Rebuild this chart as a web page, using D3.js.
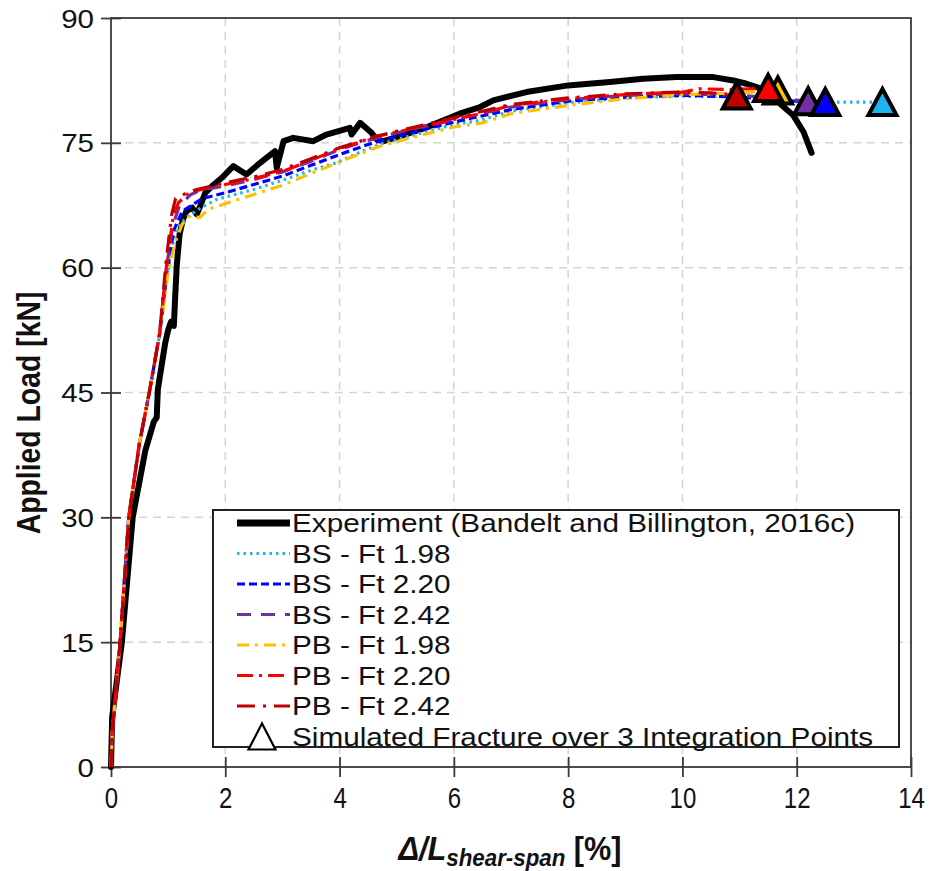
<!DOCTYPE html>
<html>
<head>
<meta charset="utf-8">
<script src="https://cdn.jsdelivr.net/npm/d3@7"></script>
<style>
body { margin: 0; background: #fff; }
svg { display: block; }
.sans { font-family: "Liberation Sans", Arial, Helvetica, sans-serif; }
</style>
</head>
<body>
<div id="chart"></div>
<script>
// tick labels
var xTicks = [0, 2, 4, 6, 8, 10, 12, 14];
var yTicks = [0, 15, 30, 45, 60, 75, 90];

// experiment curve [drift %, load kN]
var experiment = [
    [0, 0], [0.02, 6], [0.19, 15], [0.38, 30], [0.6, 38], [0.75, 41.5], [0.8, 42],
    [0.82, 45.4], [0.95, 51], [1.0, 52.5], [1.05, 53.5], [1.1, 53], [1.12, 56],
    [1.15, 60.2], [1.2, 64], [1.26, 65.8], [1.32, 66.8], [1.42, 67.2], [1.5, 66.4],
    [1.55, 67.2], [1.65, 69.0], [1.8, 70.0], [1.94, 70.8], [2.14, 72.2], [2.37, 71.2],
    [2.61, 72.6], [2.87, 74.0], [2.9, 72.0], [3.02, 75.2], [3.19, 75.6], [3.54, 75.2],
    [3.77, 76.0], [4.18, 76.8], [4.21, 76.0], [4.36, 77.4], [4.56, 76.2], [4.65, 75.4],
    [4.77, 75.2], [5.06, 75.8], [5.5, 76.8], [6.1, 78.5], [6.46, 79.3], [6.69, 80.1],
    [7.27, 81.1], [8.0, 81.9], [8.73, 82.3], [9.31, 82.7], [9.9, 82.9], [10.54, 82.9],
    [10.89, 82.5], [11.12, 82.1], [11.3, 81.7], [11.5, 81.2], [11.71, 79.7],
    [11.94, 78.3], [12.12, 76.3], [12.26, 73.8]
];

// simulated curves
var bs198 = [
    [0, 0], [0.02, 4], [0.16, 15], [0.31, 30], [0.5, 39], [0.67, 45], [0.85, 52],
    [0.98, 59], [1.1, 63.5], [1.2, 65.2], [1.35, 66.2], [1.6, 67.3], [1.85, 68.2],
    [2.5, 69.4], [3.0, 70.5], [3.5, 71.7], [3.95, 72.6], [4.4, 74.0], [4.77, 75.0],
    [5.5, 76.3], [6.0, 77.2], [6.46, 77.7], [7.0, 78.8], [8.0, 79.8], [9.0, 80.4],
    [10.0, 80.6], [11.0, 80.6], [11.35, 80.0], [12.0, 79.9], [13.5, 79.9]
];
var bs220 = [
    [0, 0], [0.02, 4], [0.16, 15], [0.31, 30], [0.5, 39], [0.67, 45], [0.85, 52],
    [0.98, 59.5], [1.1, 64.5], [1.25, 66.8], [1.6, 68.3], [2.0, 69.0], [2.5, 70.0],
    [3.0, 71.0], [3.5, 72.3], [4.0, 73.6], [4.5, 74.8], [5.0, 75.8], [6.0, 77.5],
    [7.0, 79.0], [8.0, 80.0], [9.0, 80.5], [10.0, 80.7], [11.0, 80.5], [12.0, 80.0],
    [12.5, 79.9]
];
var bs242 = [
    [0, 0], [0.02, 4], [0.16, 15], [0.31, 30], [0.5, 39], [0.67, 45], [0.85, 52],
    [0.97, 60], [1.08, 65], [1.2, 67.5], [1.4, 68.8], [1.61, 69.4], [2.0, 69.8],
    [2.5, 70.6], [3.0, 71.5], [3.5, 72.8], [4.0, 74.2], [4.5, 75.3], [5.0, 76.2],
    [6.0, 77.8], [7.0, 79.3], [8.0, 80.2], [9.0, 80.7], [10.0, 80.9], [11.0, 80.7],
    [11.6, 80.4], [12.2, 80.0]
];
var pb198 = [
    [0, 0], [0.02, 4], [0.16, 15], [0.31, 30], [0.5, 39], [0.67, 45], [0.85, 52],
    [0.99, 59], [1.12, 63], [1.25, 65.3], [1.4, 66.3], [1.55, 66.0], [1.7, 67.0],
    [2.0, 67.7], [2.5, 68.8], [3.0, 69.9], [3.6, 71.6], [4.18, 73.2], [4.7, 74.6],
    [5.47, 76.0], [6.0, 76.9], [6.5, 77.4], [7.0, 78.5], [8.0, 79.5], [9.0, 80.3],
    [10.0, 80.8], [11.0, 81.0], [11.67, 81.3]
];
var pb220 = [
    [0, 0], [0.02, 4], [0.16, 15], [0.31, 30], [0.5, 39], [0.67, 45], [0.85, 52],
    [0.97, 60.2], [1.09, 66.2], [1.18, 67.8], [1.38, 69.1], [2.0, 70.0], [2.43, 70.6],
    [3.02, 71.6], [3.5, 72.9], [3.95, 74.2], [4.65, 75.8], [5.0, 76.3], [6.0, 77.8],
    [6.46, 78.5], [7.0, 79.5], [8.0, 80.3], [9.0, 80.8], [10.0, 81.1], [10.3, 81.5],
    [10.8, 81.4], [11.2, 81.5], [11.5, 81.6]
];
var pb242 = [
    [0, 0], [0.02, 4], [0.16, 15], [0.31, 30], [0.5, 39], [0.67, 45], [0.85, 52],
    [0.96, 60.5], [1.06, 66.3], [1.13, 68.3], [1.3, 68.9], [1.5, 69.4], [2.0, 70.2],
    [2.5, 70.9], [3.0, 71.8], [3.5, 73.1], [4.0, 74.4], [4.5, 75.5], [5.0, 76.4],
    [6.0, 78.0], [7.0, 79.6], [8.0, 80.4], [9.0, 80.9], [10.0, 81.1], [10.5, 81.0],
    [10.95, 80.7]
];

// fracture points (same order as the simulated series)
var fractureX = [13.5, 12.5, 12.2, 11.67, 11.5, 10.95];
var fractureY = [79.9, 79.9, 80.0, 81.3, 81.6, 80.7];

var legendLabels = [
    "Experiment (Bandelt and Billington, 2016c)",
    "BS - Ft 1.98", "BS - Ft 2.20", "BS - Ft 2.42",
    "PB - Ft 1.98", "PB - Ft 2.20", "PB - Ft 2.42",
    "Simulated Fracture over 3 Integration Points"
];

// styles for the simulated series
var sims = [
    {data: bs198, color: "#1eb4f0", dash: "2.5,4"},
    {data: bs220, color: "#0000ff", dash: "8,4"},
    {data: bs242, color: "#7030a0", dash: "14,10"},
    {data: pb198, color: "#ffc000", dash: "12,6,3,6"},
    {data: pb220, color: "#ff0000", dash: "16,6,3,6"},
    {data: pb242, color: "#c00000", dash: "18,8,3,8"}
];

var W = 931, H = 871;
var plot = {l: 111, r: 911, t: 18, b: 767};

var svg = d3.select("#chart").append("svg")
    .attr("width", W).attr("height", H);

var x = d3.scaleLinear().domain([0, 14]).range([plot.l, plot.r]);
var y = d3.scaleLinear().domain([0, 90]).range([plot.b, plot.t]);

// grid
svg.append("g").selectAll("line").data(xTicks.slice(1, -1)).enter().append("line")
    .attr("x1", function(d) { return x(d); }).attr("x2", function(d) { return x(d); })
    .attr("y1", plot.t).attr("y2", plot.b)
    .attr("stroke", "#d4d4d4").attr("stroke-width", 1.5).attr("stroke-dasharray", "8,6");
svg.append("g").selectAll("line").data(yTicks.slice(1, -1)).enter().append("line")
    .attr("y1", function(d) { return y(d); }).attr("y2", function(d) { return y(d); })
    .attr("x1", plot.l).attr("x2", plot.r)
    .attr("stroke", "#d4d4d4").attr("stroke-width", 1.5).attr("stroke-dasharray", "8,6");

// frame
svg.append("rect")
    .attr("x", plot.l).attr("y", plot.t)
    .attr("width", plot.r - plot.l).attr("height", plot.b - plot.t)
    .attr("fill", "none").attr("stroke", "#3a3a3a").attr("stroke-width", 1.8);

// x axis (narrow digits)
var xAxis = svg.append("g")
    .attr("transform", "translate(0," + plot.b + ")")
    .call(d3.axisBottom(x).tickValues(xTicks).tickSizeOuter(0).tickSize(10));
xAxis.select(".domain").remove();
xAxis.selectAll(".tick line").attr("y1", -10).attr("y2", 10)
    .attr("stroke", "#3a3a3a").attr("stroke-width", 1.8);
xAxis.selectAll(".tick text").attr("class", "sans")
    .attr("y", 41).attr("dy", null)
    .attr("transform", "scale(0.8,1)")
    .attr("font-size", 30).attr("fill", "#111");

// y axis (wide digits)
var yAxis = svg.append("g")
    .attr("transform", "translate(" + plot.l + ",0)")
    .call(d3.axisLeft(y).tickValues(yTicks).tickSizeOuter(0).tickSize(10));
yAxis.select(".domain").remove();
yAxis.selectAll(".tick line").attr("x1", -10).attr("x2", 10)
    .attr("stroke", "#3a3a3a").attr("stroke-width", 1.8);
yAxis.selectAll(".tick text").attr("class", "sans")
    .attr("x", -17 / 1.18).attr("dy", "0.36em")
    .attr("transform", "scale(1.18,1)")
    .attr("font-size", 25).attr("fill", "#111");

// axis titles
svg.append("text").attr("class", "sans")
    .attr("transform", "translate(40,413) rotate(-90) scale(0.86,1)")
    .attr("text-anchor", "middle")
    .attr("font-size", 33).attr("font-weight", "bold").attr("fill", "#111")
    .text("Applied Load [kN]");

var xt = svg.append("text").attr("class", "sans")
    .attr("transform", "translate(510,860) scale(0.93,1)")
    .attr("text-anchor", "middle")
    .attr("font-weight", "bold").attr("fill", "#111");
xt.append("tspan").attr("font-size", 33).attr("font-style", "italic").text("\u0394/L");
xt.append("tspan").attr("font-size", 24).attr("font-style", "italic").attr("dy", 6).text("shear-span");
xt.append("tspan").attr("font-size", 33).attr("dy", -6).text(" [%]");

// lines
var line = d3.line()
    .x(function(d) { return x(d[0]); })
    .y(function(d) { return y(d[1]); });

svg.append("path").datum(experiment)
    .attr("d", line).attr("fill", "none")
    .attr("stroke", "#000").attr("stroke-width", 6)
    .attr("stroke-linejoin", "round").attr("stroke-linecap", "round");

sims.forEach(function(s) {
    svg.append("path").datum(s.data)
        .attr("d", line).attr("fill", "none")
        .attr("stroke", s.color).attr("stroke-width", 3.2)
        .attr("stroke-dasharray", s.dash);
});

// triangle markers, box-centred on the point
function tri(w, h) {
    return "M0," + (-h / 2) + "L" + (w / 2) + "," + (h / 2) + "L" + (-w / 2) + "," + (h / 2) + "Z";
}
var triOrder = [0, 2, 1, 3, 5, 4];
triOrder.forEach(function(i) {
    svg.append("path")
        .attr("d", tri(28, 26))
        .attr("transform", "translate(" + x(fractureX[i]) + "," + y(fractureY[i]) + ")")
        .attr("fill", sims[i].color)
        .attr("stroke", "#000").attr("stroke-width", 4).attr("stroke-linejoin", "miter");
});

// legend
var lg = svg.append("g");
lg.append("rect")
    .attr("x", 213).attr("y", 510).attr("width", 686).attr("height", 237)
    .attr("fill", "#fff").attr("stroke", "#222").attr("stroke-width", 2);

var rowY = function(i) { return 523 + i * 30.5; };
lg.append("line")
    .attr("x1", 237).attr("x2", 290).attr("y1", rowY(0)).attr("y2", rowY(0))
    .attr("stroke", "#000").attr("stroke-width", 7);
sims.forEach(function(s, i) {
    lg.append("line")
        .attr("x1", 237).attr("x2", 290).attr("y1", rowY(i + 1)).attr("y2", rowY(i + 1))
        .attr("stroke", s.color).attr("stroke-width", 3.2)
        .attr("stroke-dasharray", s.dash);
});
lg.append("path")
    .attr("d", tri(27, 26))
    .attr("transform", "translate(262," + rowY(7) + ")")
    .attr("fill", "#fff").attr("stroke", "#000").attr("stroke-width", 2.2);

lg.selectAll("text.lab").data(legendLabels).enter().append("text")
    .attr("class", "sans lab")
    .attr("transform", function(d, i) { return "translate(292," + rowY(i) + ") scale(1.13,1)"; })
    .attr("dy", "0.36em")
    .attr("font-size", 26.3).attr("fill", "#111")
    .text(function(d) { return d; });
</script>
</body>
</html>
